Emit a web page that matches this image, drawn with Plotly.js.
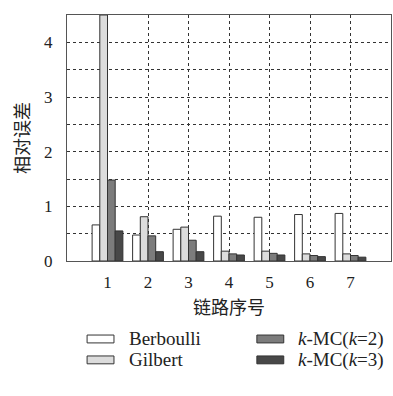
<!DOCTYPE html>
<html><head><meta charset="utf-8">
<script src="https://cdn.plot.ly/plotly-3.0.1.min.js"></script>
<style>html,body{margin:0;padding:0;background:#fff}</style>
</head><body>
<div id="chart" style="width:393px;height:396px"></div>
<script>
const categories = [1, 2, 3, 4, 5, 6, 7];
const seriesNames = ['Berboulli', 'Gilbert', '<i>k</i>-MC(<i>k</i>=2)', '<i>k</i>-MC(<i>k</i>=3)'];
const berboulli = [0.66, 0.475, 0.58, 0.82, 0.80, 0.85, 0.87];
const gilbert   = [4.5, 0.81, 0.62, 0.18, 0.18, 0.13, 0.13];
const kmc2      = [1.48, 0.46, 0.38, 0.13, 0.14, 0.10, 0.10];
const kmc3      = [0.55, 0.17, 0.17, 0.11, 0.11, 0.08, 0.07];
const colors = ['#ffffff', '#dcdcdc', '#7c7c7c', '#484848'];
const tickLabels = ['0', '1', '2', '3', '4'];

const values = [berboulli, gilbert, kmc2, kmc3];
const traces = values.map((v, i) => ({
  type: 'bar', x: categories, y: v, name: seriesNames[i],
  marker: {color: colors[i], line: {color: '#333', width: 1}},
  showlegend: false, hoverinfo: 'skip'
}));

const serif = 'Liberation Serif, DejaVu Serif, serif';
const cjk = 'Noto Sans CJK SC, sans-serif';

// custom legend (wide swatches like the reference)
const legendPos = [
  {sx: 0.062, tx: 0.185, y: -0.317},
  {sx: 0.062, tx: 0.185, y: -0.402},
  {sx: 0.586, tx: 0.708, y: -0.317},
  {sx: 0.586, tx: 0.708, y: -0.402}
];
const shapes = [], annotations = [];
legendPos.forEach((p, i) => {
  shapes.push({type: 'rect', xref: 'paper', yref: 'paper',
    x0: p.sx, x1: p.sx + 0.083, y0: p.y - 0.016, y1: p.y + 0.016,
    fillcolor: colors[i], line: {color: '#333', width: 1}});
  annotations.push({xref: 'paper', yref: 'paper', x: p.tx, y: p.y,
    xanchor: 'left', yanchor: 'middle', showarrow: false,
    text: seriesNames[i], font: {family: serif, size: 19, color: '#222'}});
});

const layout = {
  width: 393, height: 396,
  margin: {l: 67, r: 2, t: 15, b: 135},
  paper_bgcolor: '#fff', plot_bgcolor: '#fff',
  barmode: 'group', bargap: 0.24, bargroupgap: 0,
  showlegend: false,
  xaxis: {
    range: [0, 8], tickvals: categories, ticktext: categories.map(String),
    ticks: '', ticklabelstandoff: 6,
    showgrid: true, gridcolor: '#333', griddash: 'dot', gridwidth: 1,
    showline: true, mirror: true, linecolor: '#555', linewidth: 1,
    zeroline: false,
    tickfont: {family: serif, size: 17, color: '#222'},
    title: {text: '链路序号', font: {family: cjk, size: 18, color: '#222'}, standoff: 9}
  },
  yaxis: {
    range: [0, 4.5], tickvals: [0, 1, 2, 3, 4], ticktext: tickLabels,
    ticks: '', ticklabelstandoff: 10,
    showgrid: true, gridcolor: '#333', griddash: 'dot', gridwidth: 1,
    minor: {dtick: 0.5, tick0: 0, showgrid: true, gridcolor: '#333', griddash: 'dot', gridwidth: 1},
    showline: true, mirror: true, linecolor: '#555', linewidth: 1,
    zeroline: false,
    tickfont: {family: serif, size: 17, color: '#222'},
    title: {text: '相对误差', font: {family: cjk, size: 18, color: '#222'}, standoff: 9}
  },
  shapes: shapes, annotations: annotations
};
Plotly.newPlot('chart', traces, layout, {displayModeBar: false, staticPlot: true});
</script>
</body></html>
